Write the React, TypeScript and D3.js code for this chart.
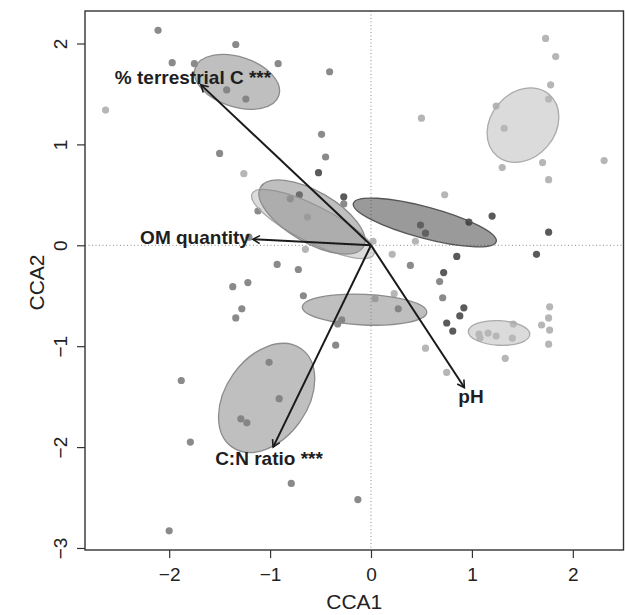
import * as d3 from "d3";
import * as React from "react";

const width = 625;
const height = 615;

// axis limits of the ordination plot (CCA units)
const xLimits = [-2.834, 2.502];
const yLimits = [-3.02, 2.322];
const xTicks = [-2, -1, 0, 1, 2];
const yTicks = [-3, -2, -1, 0, 1, 2];

// site scores [CCA1, CCA2], split by the shade of their group
const darkSites = [
  [-0.71, 0.5], [-0.52, 0.72], [-0.27, 0.48], [1.2, 0.29], [1.76, 0.13],
  [1.64, -0.09], [0.97, 0.23], [0.85, -0.11], [0.72, -0.27], [0.92, -0.62],
  [0.88, -0.7], [0.75, -0.77], [0.81, -0.85],
];
const mediumSites = [
  [-2.11, 2.13], [-1.34, 1.99], [-1.97, 1.81], [-1.75, 1.8], [-0.92, 1.8],
  [-1.43, 1.54], [-1.24, 1.45], [-1.5, 0.91], [-0.8, 0.46], [-1.12, 0.34],
  [-0.93, -0.19], [-0.72, -0.24], [-1.37, -0.41], [-1.22, -0.37], [-0.67, -0.5],
  [-1.28, -0.63], [-1.34, -0.72], [-0.49, 1.1], [-0.45, 0.875], [-0.41, 1.72],
  [-0.27, 0.41], [0.49, 0.2], [0.54, 0.12], [0.39, -0.2], [0.68, -0.36],
  [0.71, -0.52], [0.27, -0.63], [-0.29, -0.74], [-0.33, -0.78], [-0.35, -0.99],
  [-0.13, -2.52], [-1.01, -1.16], [-1.88, -1.34], [-0.91, -1.52], [-1.29, -1.72],
  [-1.23, -1.76], [-1.79, -1.95], [-0.79, -2.36], [-2.0, -2.83], [-1.21, 0.08],
];
const lightSites = [
  [-2.63, 1.34], [-1.26, 0.71], [-0.63, 0.28], [1.73, 2.05], [1.83, 1.87],
  [1.78, 1.59], [1.76, 1.45], [1.24, 1.38], [1.32, 1.16], [0.5, 1.26],
  [1.3, 0.77], [1.7, 0.82], [1.76, 0.65], [2.31, 0.84], [0.73, 0.5],
  [0.44, 0.04], [0.02, 0.04], [0.21, -0.09], [0.23, -0.48], [0.04, -0.53],
  [1.77, -0.61], [1.76, -0.72], [1.69, -0.79], [1.77, -0.84], [1.76, -0.98],
  [0.54, -1.02], [0.75, -1.26], [1.33, -1.12], [1.07, -0.88], [1.08, -0.92],
  [1.16, -0.87], [1.24, -0.9], [1.41, -0.78], [1.4, -0.92], [-0.65, -0.04],
];

// group ellipses: [centre x, centre y, semi-axis a, semi-axis b, angle (deg)]
const lightEllipses = [
  [-0.575, 0.211, 0.674, 0.18, -26.6],
  [1.506, 1.191, 0.4, 0.32, 50],
  [1.269, -0.869, 0.305, 0.122, -3],
];
const mediumEllipses = [
  [-0.585, 0.28, 0.589, 0.253, -30],
  [-1.328, 1.62, 0.436, 0.248, -18],
  [-0.064, -0.638, 0.617, 0.152, -2.5],
  [-1.034, -1.513, 0.595, 0.406, 55],
];
const darkEllipses = [
  [0.533, 0.226, 0.733, 0.155, -15],
];

// fitted environmental vectors
const vectorNames = ["% terrestrial C ***", "OM quantity", "C:N ratio ***", "pH"];
const vectorX = [-1.685, -1.17, -0.97, 0.925];
const vectorY = [1.59, 0.06, -2.0, -1.41];
const labelX = [-1.764, -1.744, -1.011, 0.991];
const labelY = [1.668, 0.08, -2.108, -1.497];

const font = "'Liberation Sans', Arial, Helvetica, sans-serif";

function App() {
  const ref = React.useRef<SVGSVGElement>(null);

  React.useEffect(() => {
    const svg = d3.select(ref.current);
    svg.selectAll("*").remove();

    const x = d3.scaleLinear().domain(xLimits).range([85, 623.5]);
    const y = d3.scaleLinear().domain(yLimits).range([550, 11]);
    const unit = x(1) - x(0);

    // zero lines
    svg.append("line")
      .attr("x1", x(0)).attr("x2", x(0))
      .attr("y1", y(yLimits[1])).attr("y2", y(yLimits[0]))
      .attr("stroke", "#8a8a8a").attr("stroke-dasharray", "1,2.5");
    svg.append("line")
      .attr("y1", y(0)).attr("y2", y(0))
      .attr("x1", x(xLimits[0])).attr("x2", x(xLimits[1]))
      .attr("stroke", "#8a8a8a").attr("stroke-dasharray", "1,2.5");

    // sites
    const drawSites = (pts, fill) => {
      svg.append("g")
        .selectAll("circle")
        .data(pts)
        .join("circle")
        .attr("cx", d => x(d[0]))
        .attr("cy", d => y(d[1]))
        .attr("r", 3.6)
        .attr("fill", fill);
    };
    drawSites(lightSites, "#b6b6b6");
    drawSites(mediumSites, "#8a8a8a");
    drawSites(darkSites, "#5a5a5a");

    // ellipses (semi-transparent, like the original)
    const drawEllipses = (els, fill, stroke) => {
      svg.append("g")
        .selectAll("ellipse")
        .data(els)
        .join("ellipse")
        .attr("transform", d => `translate(${x(d[0])},${y(d[1])}) rotate(${-d[4]})`)
        .attr("rx", d => d[2] * unit)
        .attr("ry", d => d[3] * unit)
        .attr("fill", fill)
        .attr("fill-opacity", 0.5)
        .attr("stroke", stroke)
        .attr("stroke-width", 1.3);
    };
    drawEllipses(lightEllipses, "#b8b8b8", "#aaaaaa");
    drawEllipses(mediumEllipses, "#808080", "#8c8c8c");
    drawEllipses(darkEllipses, "#363636", "#555555");

    // vectors
    const arrows = svg.append("g").attr("stroke", "#1a1a1a").attr("stroke-width", 2).attr("fill", "none");
    vectorNames.forEach((name, i) => {
      const x0 = x(0), y0 = y(0);
      const x1 = x(vectorX[i]), y1 = y(vectorY[i]);
      const ang = Math.atan2(y1 - y0, x1 - x0);
      const len = 8;
      arrows.append("line").attr("x1", x0).attr("y1", y0).attr("x2", x1).attr("y2", y1);
      const head = [ang + Math.PI - Math.PI / 6, ang + Math.PI + Math.PI / 6]
        .map(a => [x1 + len * Math.cos(a), y1 + len * Math.sin(a)]);
      arrows.append("path")
        .attr("d", `M${head[0][0]},${head[0][1]}L${x1},${y1}L${head[1][0]},${head[1][1]}`)
        .attr("stroke-width", 1.6);
      svg.append("text")
        .attr("x", x(labelX[i]))
        .attr("y", y(labelY[i]))
        .attr("dy", "0.35em")
        .attr("text-anchor", "middle")
        .attr("font-family", font)
        .attr("font-weight", "bold")
        .attr("font-size", 19)
        .attr("fill", "#1e1e1e")
        .text(name);
    });

    // box
    svg.append("rect")
      .attr("x", x(xLimits[0])).attr("y", y(yLimits[1]))
      .attr("width", x(xLimits[1]) - x(xLimits[0]))
      .attr("height", y(yLimits[0]) - y(yLimits[1]))
      .attr("fill", "none").attr("stroke", "#333").attr("stroke-width", 1.4);

    // axes
    const xAxis = svg.append("g")
      .attr("transform", `translate(0,${y(yLimits[0])})`)
      .call(d3.axisBottom(x).tickValues(xTicks).tickSize(8).tickPadding(9.5).tickFormat(d3.format("d")));
    xAxis.select(".domain").remove();
    xAxis.selectAll("line").attr("stroke", "#333").attr("stroke-width", 1.2);
    xAxis.selectAll("text")
      .attr("font-family", font).attr("font-size", 19).attr("fill", "#222");

    const yAxis = svg.append("g")
      .attr("transform", `translate(${x(xLimits[0])},0)`)
      .call(d3.axisLeft(y).tickValues(yTicks).tickSize(8).tickFormat(d3.format("d")));
    yAxis.select(".domain").remove();
    yAxis.selectAll("line").attr("stroke", "#333").attr("stroke-width", 1.2);
    yAxis.selectAll("text")
      .attr("x", null).attr("dy", null)
      .attr("transform", "translate(-18.5,0) rotate(-90)")
      .attr("text-anchor", "middle")
      .attr("font-family", font).attr("font-size", 19).attr("fill", "#222");

    // axis titles
    svg.append("text")
      .attr("x", (x(xLimits[0]) + x(xLimits[1])) / 2)
      .attr("y", 609)
      .attr("text-anchor", "middle")
      .attr("font-family", font).attr("font-size", 21).attr("fill", "#222")
      .text("CCA1");
    svg.append("text")
      .attr("transform", `translate(44,${(y(yLimits[0]) + y(yLimits[1])) / 2 + 2}) rotate(-90)`)
      .attr("text-anchor", "middle")
      .attr("font-family", font).attr("font-size", 21).attr("fill", "#222")
      .text("CCA2");
  }, []);

  return (
    <svg
      ref={ref}
      width={width}
      height={height}
      style={{ position: "absolute", left: 0, top: 0, background: "#fff" }}
    />
  );
}

export default App;
